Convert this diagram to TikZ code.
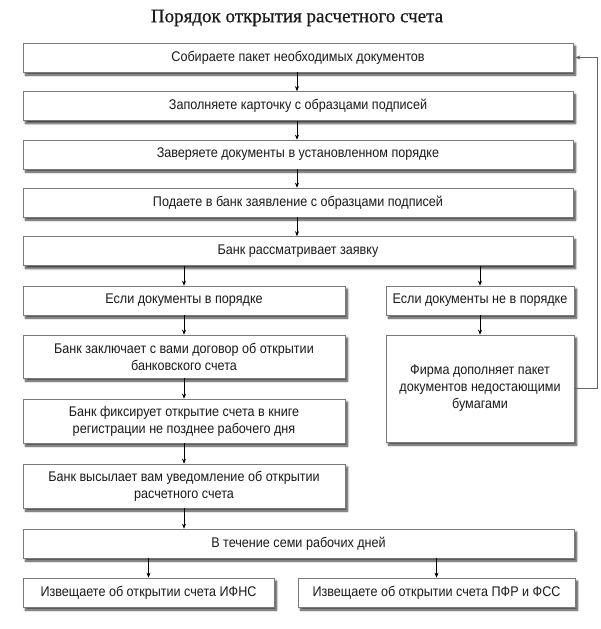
\documentclass[tikz,border=0pt]{standalone}
\usepackage{fontspec}
\setmainfont{Liberation Sans}[FakeStretch=0.9]
\newfontfamily\titlefont{Liberation Serif}[FakeBold=0.6]
\usetikzlibrary{shadows.blur,arrows.meta}
\definecolor{boxline}{HTML}{7A7A7A}
\definecolor{txt}{HTML}{1A1A1A}
\tikzset{
  box/.style={draw=boxline, line width=0.7pt, fill=white, align=center,
    inner sep=0pt, font=\fontsize{14}{17}\selectfont, text=txt,
    blur shadow={shadow xshift=2.5pt, shadow yshift=-3pt, shadow blur steps=6, shadow blur extra rounding=0pt, shadow opacity=75}},
  arr/.style={draw=black, line width=0.6pt, -{Stealth[length=5pt,width=4pt]}},
}
\begin{document}
\begin{tikzpicture}[x=1pt,y=-1pt]
\useasboundingbox (0,0) rectangle (600,629);
\node[font=\titlefont\fontsize{19}{22}\selectfont, text=txt] (title) at (297,18) {Порядок открытия расчетного счета};
\node[box, minimum width=550pt, minimum height=29pt] (b1) at (298,57.5) {Собираете пакет необходимых документов};
\node[box, minimum width=550pt, minimum height=29pt] (b2) at (298,106) {Заполняете карточку с образцами подписей};
\node[box, minimum width=550pt, minimum height=29pt] (b3) at (298,154.5) {Заверяете документы в установленном порядке};
\node[box, minimum width=550pt, minimum height=29pt] (b4) at (298,202.5) {Подаете в банк заявление с образцами подписей};
\node[box, minimum width=550pt, minimum height=29pt] (b5) at (298,251) {Банк рассматривает заявку};
\node[box, minimum width=322pt, minimum height=29pt] (l1) at (184,300.5) {Если документы в порядке};
\node[box, minimum width=188pt, minimum height=29pt] (r1) at (480,300.5) {Если документы не в порядке};
\node[box, minimum width=322pt, minimum height=43pt] (l2) at (184,356.5) {Банк заключает с вами договор об открытии\\банковского счета};
\node[box, minimum width=188pt, minimum height=107pt] (r2) at (480,388.5) {Фирма дополняет пакет\\документов недостающими\\бумагами};
\node[box, minimum width=322pt, minimum height=44pt] (l3) at (184,421) {Банк фиксирует открытие счета в книге\\регистрации не позднее рабочего дня};
\node[box, minimum width=322pt, minimum height=44pt] (l4) at (184,486) {Банк высылает вам уведомление об открытии\\расчетного счета};
\node[box, minimum width=551pt, minimum height=29pt] (b6) at (298.5,543.5) {В течение семи рабочих дней};
\node[box, minimum width=251pt, minimum height=29pt] (bl) at (148.5,592.5) {Извещаете об открытии счета ИФНС};
\node[box, minimum width=277pt, minimum height=29pt] (br) at (436.5,592.5) {Извещаете об открытии счета ПФР и ФСС};
\coordinate (fbx) at (597,0);
\draw[arr] (b1.south -| 297,0) -- (b2.north -| 297,0);
\draw[arr] (b2.south -| 297,0) -- (b3.north -| 297,0);
\draw[arr] (b3.south -| 297,0) -- (b4.north -| 297,0);
\draw[arr] (b4.south -| 297,0) -- (b5.north -| 297,0);
\draw[arr] (b5.south -| l1.north) -- (l1.north);
\draw[arr] (b5.south -| r1.north) -- (r1.north);
\draw[arr] (l1) -- (l2);
\draw[arr] (r1) -- (r2);
\draw[arr] (l2) -- (l3);
\draw[arr] (l3) -- (l4);
\draw[arr] (l4.south) -- (b6.north -| l4.south);
\draw[arr] (b6.south -| bl.north) -- (bl.north);
\draw[arr] (b6.south -| br.north) -- (br.north);
\draw[arr, draw=black!60] (r2.east) -- (r2.east -| fbx) |- ([xshift=2pt]b1.east);
\end{tikzpicture}
\end{document}
